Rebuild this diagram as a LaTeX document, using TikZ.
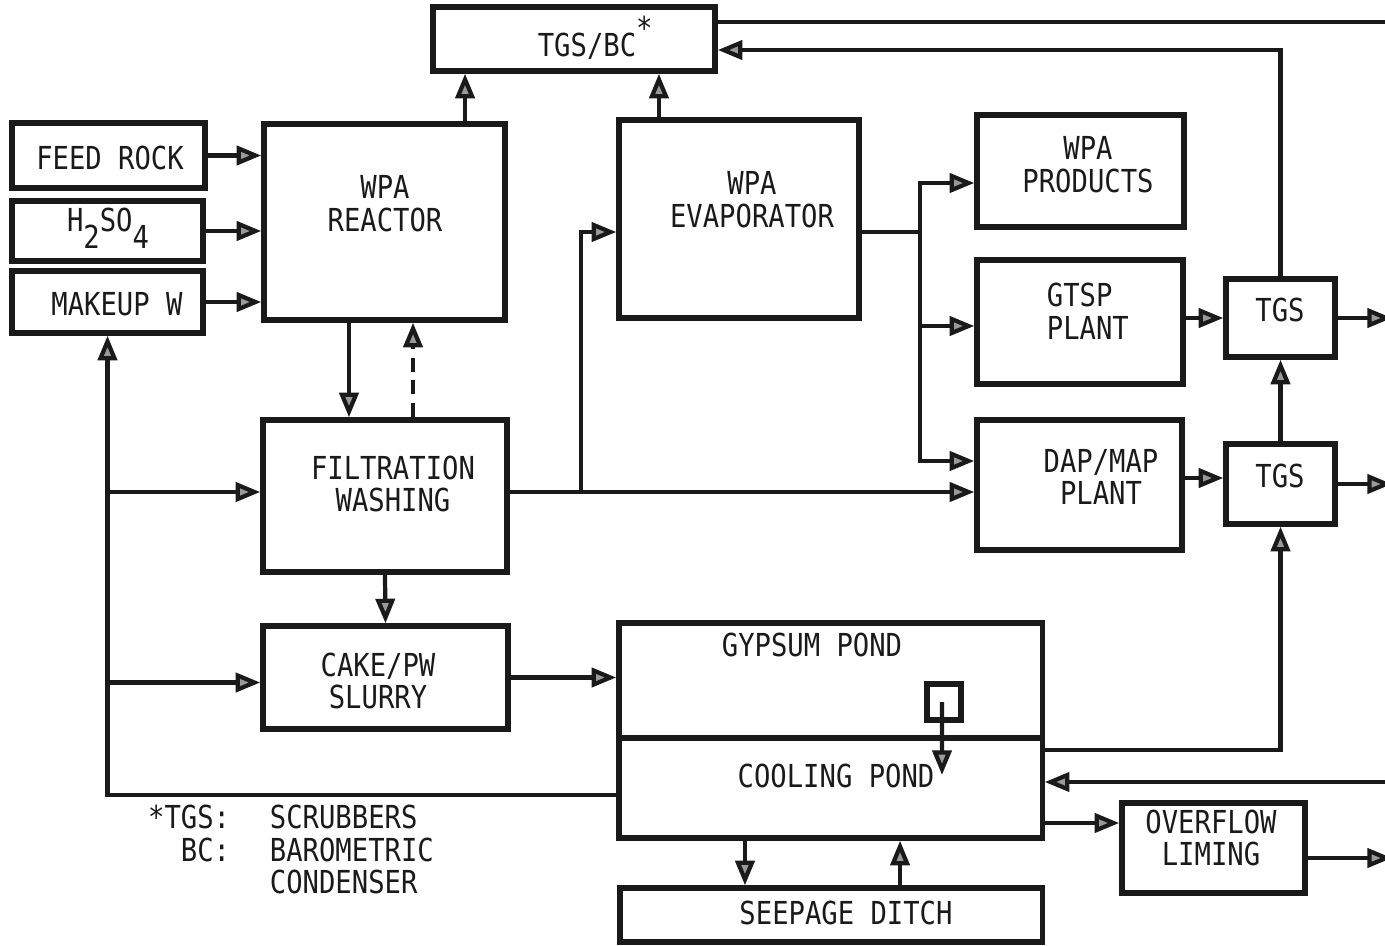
\documentclass[tikz,border=0pt]{standalone}
\usepackage{fontspec}
\newfontfamily\plantfont[FakeStretch=0.86]{DejaVu Sans Mono}
\usetikzlibrary{arrows.meta}
\definecolor{cink}{HTML}{1A1A1A}
\definecolor{ctip}{HTML}{9A9A9A}
\tikzset{
  every picture/.style={x=0.01cm, y=-0.01cm, line width=1.1pt},
  box/.style={draw=cink, line width=1.5pt, inner sep=0pt},
  txt/.style={font=\plantfont\fontsize{9}{9.3}\selectfont, text=cink, align=center, inner sep=0pt},
  arrow/.style={-{Triangle[length=7pt, width=5.4pt, fill=ctip]}, draw=cink, line width=1.2pt},
  link/.style={draw=cink, line width=1.2pt},
}

\begin{document}
\begin{tikzpicture}
  \path[use as bounding box, fill=white] (0,0) rectangle (1385,945);
  \coordinate (edgeR) at (1392,0);

  % boxes
  \node[box, minimum width=2.82cm, minimum height=0.64cm] (tgsbc) at (574,39) {};
  \node[box, minimum width=1.93cm, minimum height=0.65cm] (feed) at (108.5,155.5) {};
  \node[box, minimum width=1.91cm, minimum height=0.60cm] (acid) at (107.5,231) {};
  \node[box, minimum width=1.91cm, minimum height=0.62cm] (makeup) at (107.5,302) {};
  \node[box, minimum width=2.41cm, minimum height=1.96cm] (reactor) at (384.5,222) {};
  \node[box, minimum width=2.40cm, minimum height=1.98cm] (evap) at (739,219) {};
  \node[box, minimum width=2.07cm, minimum height=1.12cm] (products) at (1080.5,171) {};
  \node[box, minimum width=2.06cm, minimum height=1.24cm] (gtsp) at (1080,322) {};
  \node[box, minimum width=2.05cm, minimum height=1.30cm] (dap) at (1079.5,485) {};
  \node[box, minimum width=1.09cm, minimum height=0.78cm] (tgsA) at (1280.5,318) {};
  \node[box, minimum width=1.09cm, minimum height=0.80cm] (tgsB) at (1280.5,484) {};
  \node[box, minimum width=2.44cm, minimum height=1.52cm] (filt) at (385,496) {};
  \node[box, minimum width=2.45cm, minimum height=1.03cm] (cake) at (385.5,677.5) {};
  \node[box, minimum width=4.23cm, minimum height=1.15cm] (gypsum) at (830.5,680.5) {};
  \node[box, minimum width=4.23cm, minimum height=1.00cm] (cooling) at (830.5,788) {};
  \node[box, minimum width=0.34cm, minimum height=0.36cm] (weir) at (944,702) {};
  \node[box, minimum width=4.22cm, minimum height=0.54cm] (seepage) at (831,915) {};
  \node[box, minimum width=1.83cm, minimum height=0.90cm] (overflow) at (1213.5,848) {};

  % texts
  \node[txt] (tgsbcT) at (587,38) {TGS/BC\rlap{\raisebox{0.55em}{*}}};
  \node[txt] (feedT) at (110,158) {FEED ROCK};
  \node[txt] (acidT) at (108,228) {H\raisebox{-0.55em}{2}SO\raisebox{-0.55em}{4}};
  \node[txt] (makeupT) at (117,304) {MAKEUP W};
  \node[txt] (reactorT) at (385,204) {WPA\\REACTOR};
  \node[txt] (evapT) at (752,200) {WPA\\EVAPORATOR};
  \node[txt] (productsT) at (1088,165) {WPA\\PRODUCTS};
  \node[txt, align=left, anchor=west] (gtspT) at (1045,311) {GTSP\\PLANT};
  \node[txt] (dapT) at (1101,477) {DAP/MAP\\PLANT};
  \node[txt] (tgsAT) at (1280,310) {TGS};
  \node[txt] (tgsBT) at (1280,476) {TGS};
  \node[txt] (filtT) at (393,484) {FILTRATION\\WASHING};
  \node[txt] (cakeT) at (378,681) {CAKE/PW\\SLURRY};
  \node[txt] (gypsumT) at (812,645) {GYPSUM POND};
  \node[txt] (coolingT) at (836,776) {COOLING POND};
  \node[txt] (seepageT) at (846,913) {SEEPAGE DITCH};
  \node[txt] (overflowT) at (1211,838) {OVERFLOW\\LIMING};
  \node[txt, align=right, anchor=north east] (keyT) at (232,803) {*TGS:\\BC:};
  \node[txt, align=left, anchor=north west] (valT) at (268,803) {SCRUBBERS\\BAROMETRIC\\CONDENSER};

  % feeds into the reactor
  \draw[arrow] (feed.east) -- (feed.east -| reactor.west);
  \draw[arrow] (acid.east) -- (acid.east -| reactor.west);
  \draw[arrow] (makeup.east) -- (makeup.east -| reactor.west);

  % vents to TGS/BC
  \draw[arrow] ([xshift=0.805cm]reactor.north) -- ([xshift=0.805cm]reactor.north |- tgsbc.south);
  \draw[arrow] ([xshift=-0.8cm]evap.north) -- ([xshift=-0.8cm]evap.north |- tgsbc.south);

  % reactor / filter / cake
  \draw[arrow] ([xshift=-0.355cm]reactor.south) -- ([xshift=-0.355cm]reactor.south |- filt.north);
  \draw[arrow, dash pattern=on 4pt off 2.5pt] ([xshift=0.28cm]filt.north) -- ([xshift=0.28cm]filt.north |- reactor.south);
  \draw[arrow] (filt.south) -- (cake.north);

  % return water loop
  \draw[arrow] ([yshift=-0.07cm]cooling.west) -| (makeup.south);
  \draw[arrow] ([yshift=0.04cm]filt.west -| makeup.south) -- ([yshift=0.04cm]filt.west);
  \draw[arrow] ([yshift=-0.05cm]cake.west -| makeup.south) -- ([yshift=-0.05cm]cake.west);
  \draw[arrow] (cake.east) -- (cake.east -| gypsum.west);

  % acid to evaporator and plants
  \coordinate (fsplit) at ([xshift=0.71cm, yshift=0.04cm]filt.east);
  \draw[arrow] ([yshift=0.04cm]filt.east) -- ([yshift=0.04cm]filt.east -| dap.west);
  \draw[arrow] (fsplit) |- ([yshift=-0.13cm]evap.west);
  \coordinate (esplit) at ([xshift=0.58cm, yshift=-0.13cm]evap.east);
  \draw[link] ([yshift=-0.13cm]evap.east) -- (esplit);
  \draw[arrow] (esplit) |- ([yshift=-0.12cm]products.west);
  \draw[arrow] (esplit) |- ([yshift=-0.04cm]gtsp.west);
  \draw[arrow] (esplit) |- ([yshift=0.24cm]dap.west);

  % scrubbers
  \draw[arrow] (tgsA.west -| gtsp.east) -- (tgsA.west);
  \draw[arrow] ([yshift=0.06cm]tgsB.west -| dap.east) -- ([yshift=0.06cm]tgsB.west);
  \draw[arrow] (tgsA.east) -- (tgsA.east -| edgeR);
  \draw[arrow] (tgsB.east) -- (tgsB.east -| edgeR);
  \draw[arrow] (tgsB.north) -- (tgsA.south);
  \draw[arrow] (tgsA.north) |- ([yshift=-0.11cm]tgsbc.east);
  \draw[link] ([yshift=0.17cm]tgsbc.east) -- ([yshift=0.17cm]tgsbc.east -| edgeR);

  % ponds
  \draw[arrow] ([yshift=0.38cm]cooling.east) -| (tgsB.south);
  \draw[arrow] ([yshift=0.06cm]cooling.east -| edgeR) -- ([yshift=0.06cm]cooling.east);
  \draw[arrow] ([yshift=0.25cm]overflow.west -| cooling.east) -- ([yshift=0.25cm]overflow.west);
  \draw[arrow] ([yshift=-0.1cm]overflow.east) -- ([yshift=-0.1cm]overflow.east -| edgeR);
  \draw[arrow] ([xshift=-0.855cm]cooling.south) -- ([xshift=-0.855cm]cooling.south |- seepage.north);
  \draw[arrow] ([xshift=0.69cm]seepage.north) -- ([xshift=0.69cm]seepage.north |- cooling.south);
  \coordinate (weirout) at (942,775);
  \draw[arrow] ([xshift=-0.02cm]weir.center) -- (weirout);
\end{tikzpicture}
\end{document}
